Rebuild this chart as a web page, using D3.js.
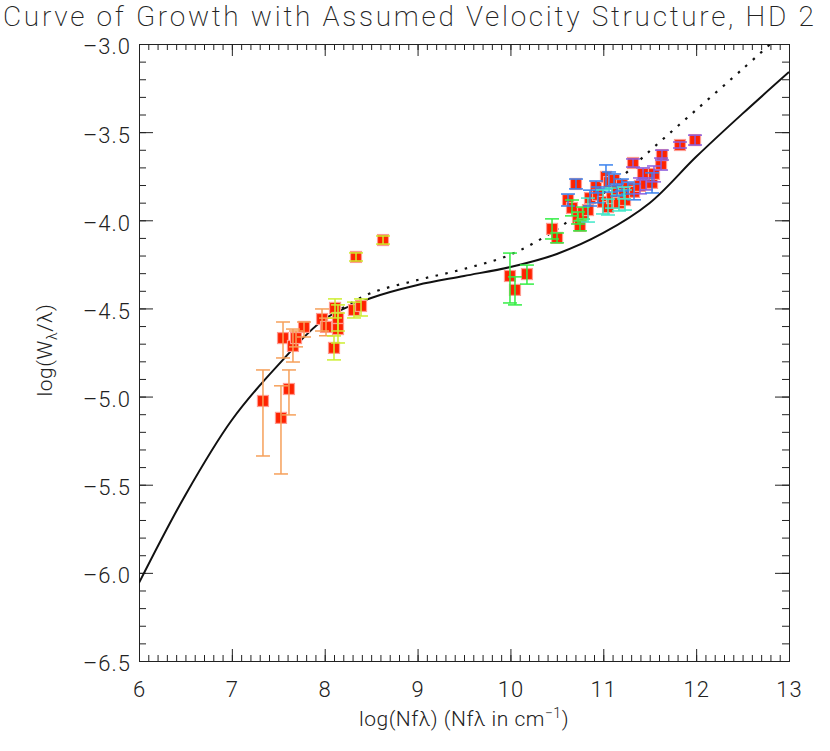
<!DOCTYPE html>
<html>
<head>
<meta charset="utf-8">
<script src="https://cdn.jsdelivr.net/npm/d3@7/dist/d3.min.js"></script>
<style>
  body { margin: 0; background: #fff; }
  svg { display: block; font-family: Roboto, "DejaVu Sans", sans-serif; font-weight: 300; }
  .axis path, .axis line { stroke: #222; stroke-width: 1; }
  .axis text { font-size: 22px; fill: #222; font-family: Roboto, sans-serif; font-weight: 300; letter-spacing: 1px; }
</style>
</head>
<body>
<svg id="chart" width="830" height="751"></svg>
<script>
// measured points: log(Nf lambda), log(W/lambda), lower / upper error, bar colour group
var ptX = [7.335, 7.529, 7.615, 7.551, 7.658, 7.691, 7.777, 7.971, 8.014,
  8.111, 8.143, 8.143, 8.100, 8.315, 8.391, 8.337, 8.628,
  9.995, 10.178, 10.049,
  10.448, 10.502, 10.620, 10.663, 10.706, 10.728, 10.749, 10.782, 10.835, 10.857,
  10.922, 10.943, 11.029, 11.062, 11.116, 10.997, 11.051, 11.094, 11.169, 11.234,
  11.201, 11.266, 11.331, 11.148, 11.223, 11.395, 11.460, 11.525, 11.320, 11.428,
  11.546, 11.622, 11.632, 11.826, 11.988];
var ptY = [-5.025, -5.121, -4.957, -4.668, -4.713, -4.668, -4.605, -4.560, -4.605,
  -4.497, -4.554, -4.617, -4.724, -4.509, -4.486, -4.208, -4.112,
  -4.316, -4.305, -4.395,
  -4.049, -4.100, -3.885, -3.930, -3.794, -3.987, -4.032, -3.959, -3.942, -3.874,
  -3.811, -3.856, -3.754, -3.783, -3.771, -3.896, -3.925, -3.874, -3.902, -3.885,
  -3.800, -3.817, -3.839, -3.828, -3.845, -3.805, -3.794, -3.788, -3.675, -3.737,
  -3.737, -3.681, -3.630, -3.573, -3.545];
var errLo = [0.312, 0.318, 0.147, 0.113, 0.091, 0.050, 0.057, 0.068, 0.050,
  0.057, 0.074, 0.079, 0.068, 0.045, 0.057, 0.023, 0.023,
  0.153, 0.057, 0.085,
  0.057, 0.028, 0.034, 0.045, 0.028, 0.034, 0.028, 0.034, 0.068, 0.045,
  0.034, 0.045, 0.068, 0.057, 0.034, 0.068, 0.045, 0.057, 0.045, 0.057,
  0.034, 0.034, 0.045, 0.034, 0.034, 0.045, 0.034, 0.057, 0.023, 0.034,
  0.045, 0.034, 0.028, 0.017, 0.028];
var errHi = [0.176, 0.182, 0.108, 0.091, 0.096, 0.040, 0.028, 0.057, 0.050,
  0.051, 0.074, 0.091, 0.068, 0.045, 0.040, 0.023, 0.023,
  0.130, 0.051, 0.074,
  0.057, 0.028, 0.034, 0.045, 0.028, 0.034, 0.028, 0.034, 0.068, 0.045,
  0.034, 0.045, 0.068, 0.057, 0.034, 0.068, 0.045, 0.057, 0.045, 0.057,
  0.034, 0.034, 0.045, 0.034, 0.034, 0.045, 0.034, 0.057, 0.023, 0.034,
  0.045, 0.034, 0.028, 0.017, 0.028];
var ptGroup = ["o", "o", "o", "o", "o", "o", "o", "o", "o",
  "y", "y", "y", "y", "y", "y", "y", "y",
  "g", "g", "g",
  "g", "g", "b", "g", "b", "g", "g", "g", "c", "b",
  "b", "b", "b", "b", "b", "c", "c", "c", "c", "c",
  "b", "b", "b", "b", "c", "p", "p", "b", "p", "p",
  "p", "p", "p", "p", "p"];
var groupColors = { o: "#f6a05a", y: "#cdee30", g: "#33ee44", c: "#3ee8c8", b: "#3a82ee", p: "#8a5ee0" };

// model curves (solid: assumed structure, dotted: alternative)
var cogX = [6.0, 6.5, 7.0, 7.5, 8.0, 8.5, 9.0, 9.5, 10.0, 10.5, 11.0, 11.5, 12.0, 12.5, 13.0];
var cogY = [-6.057, -5.558, -5.133, -4.82, -4.56, -4.441, -4.367, -4.316, -4.265, -4.191, -4.072,
  -3.902, -3.640, -3.395, -3.159];
var altX = [8.0, 8.25, 8.5, 9.0, 9.5, 10.0, 10.5, 11.0, 11.5, 12.0, 12.5, 12.8];
var altY = [-4.56, -4.48, -4.412, -4.339, -4.276, -4.195, -4.05, -3.848, -3.607, -3.374, -3.142, -3.0];

var xTicks = [6, 7, 8, 9, 10, 11, 12, 13];
var yTicks = [-3.0, -3.5, -4.0, -4.5, -5.0, -5.5, -6.0, -6.5];

var pLeft = 139, pRight = 789, pTop = 44, pBottom = 661;
var svg = d3.select("#chart");

var x = d3.scaleLinear().domain([6, 13]).range([pLeft, pRight]);
var y = d3.scaleLinear().domain([-6.5, -3.0]).range([pBottom, pTop]);

var minorX = d3.range(60, 131).map(d => d / 10);
var minorY = d3.range(-65, -29).map(d => d / 10);
var fmt = d => (d < 0 ? "\u2013" : "") + Math.abs(d).toFixed(1);

// minor ticks
svg.append("g").attr("class", "axis").attr("transform", `translate(0,${pBottom})`)
  .call(d3.axisBottom(x).tickValues(minorX).tickSize(-6).tickFormat(""));
svg.append("g").attr("class", "axis").attr("transform", `translate(0,${pTop})`)
  .call(d3.axisTop(x).tickValues(minorX).tickSize(-6).tickFormat(""));
svg.append("g").attr("class", "axis").attr("transform", `translate(${pLeft},0)`)
  .call(d3.axisLeft(y).tickValues(minorY).tickSize(-7).tickFormat(""));
svg.append("g").attr("class", "axis").attr("transform", `translate(${pRight},0)`)
  .call(d3.axisRight(y).tickValues(minorY).tickSize(-7).tickFormat(""));

// major ticks with labels
svg.append("g").attr("class", "axis").attr("transform", `translate(0,${pBottom})`)
  .call(d3.axisBottom(x).tickValues(xTicks).tickSize(-12).tickSizeOuter(0).tickPadding(20).tickFormat(d3.format("d")));
svg.append("g").attr("class", "axis").attr("transform", `translate(0,${pTop})`)
  .call(d3.axisTop(x).tickValues(xTicks).tickSize(-12).tickSizeOuter(0).tickFormat(""));
svg.append("g").attr("class", "axis").attr("transform", `translate(${pLeft},0)`)
  .call(d3.axisLeft(y).tickValues(yTicks).tickSize(-14).tickSizeOuter(0).tickPadding(8).tickFormat(fmt))
  .selectAll("text").attr("dy", "0.45em");
svg.append("g").attr("class", "axis").attr("transform", `translate(${pRight},0)`)
  .call(d3.axisRight(y).tickValues(yTicks).tickSize(-14).tickSizeOuter(0).tickFormat(""));

svg.append("clipPath").attr("id", "plot")
  .append("rect").attr("x", pLeft).attr("y", pTop).attr("width", pRight - pLeft).attr("height", pBottom - pTop);

var line = d3.line().x(d => x(d[0])).y(d => y(d[1])).curve(d3.curveCatmullRom.alpha(0.5));

svg.append("path")
  .attr("clip-path", "url(#plot)")
  .attr("d", line(cogX.map((v, i) => [v, cogY[i]])))
  .attr("fill", "none").attr("stroke", "#111").attr("stroke-width", 2);

svg.append("path")
  .attr("clip-path", "url(#plot)")
  .attr("d", line(altX.map((v, i) => [v, altY[i]])))
  .attr("fill", "none").attr("stroke", "#111").attr("stroke-width", 2.2)
  .attr("stroke-dasharray", "2.5,7.5");

var points = ptX.map((v, i) => ({ x: v, y: ptY[i], lo: errLo[i], hi: errHi[i], c: groupColors[ptGroup[i]] }));

var g = svg.append("g").attr("clip-path", "url(#plot)");
var sq = 11;
g.selectAll("rect.pt").data(points).enter().append("rect")
  .attr("class", "pt")
  .attr("x", d => x(d.x) - sq / 2).attr("y", d => y(d.y) - sq / 2)
  .attr("width", sq).attr("height", sq)
  .attr("fill", "#ff2200").attr("stroke", "#ff9a90").attr("stroke-width", 1.2);

var bars = g.selectAll("g.err").data(points).enter().append("g")
  .attr("stroke", d => d.c).attr("stroke-width", 1.5);
bars.append("line")
  .attr("x1", d => x(d.x)).attr("x2", d => x(d.x))
  .attr("y1", d => y(d.y + d.hi)).attr("y2", d => y(d.y - d.lo));
bars.append("line")
  .attr("x1", d => x(d.x) - 7).attr("x2", d => x(d.x) + 7)
  .attr("y1", d => y(d.y + d.hi)).attr("y2", d => y(d.y + d.hi));
bars.append("line")
  .attr("x1", d => x(d.x) - 7).attr("x2", d => x(d.x) + 7)
  .attr("y1", d => y(d.y - d.lo)).attr("y2", d => y(d.y - d.lo));

// titles
svg.append("text")
  .attr("x", 3).attr("y", 26)
  .attr("font-size", 28).attr("font-weight", 200).attr("fill", "#222").attr("letter-spacing", 2.7)
  .text("Curve of Growth with Assumed Velocity Structure, HD 2");

var xt = svg.append("text")
  .attr("x", 464).attr("y", 726).attr("text-anchor", "middle")
  .attr("font-size", 21).attr("fill", "#222").attr("letter-spacing", 0.5);
xt.append("tspan").text("log(Nf\u03bb) (Nf\u03bb in cm");
xt.append("tspan").attr("font-size", 14).attr("dy", -8).text("\u22121");
xt.append("tspan").attr("dy", 8).text(")");

var yt = svg.append("text")
  .attr("transform", "translate(52,350) rotate(-90)").attr("text-anchor", "middle")
  .attr("font-size", 21).attr("fill", "#222").attr("letter-spacing", 0.5);
yt.append("tspan").text("log(W");
yt.append("tspan").attr("font-size", 14).attr("dy", 5).text("\u03bb");
yt.append("tspan").attr("dy", -5).text("/\u03bb)");
</script>
</body>
</html>
